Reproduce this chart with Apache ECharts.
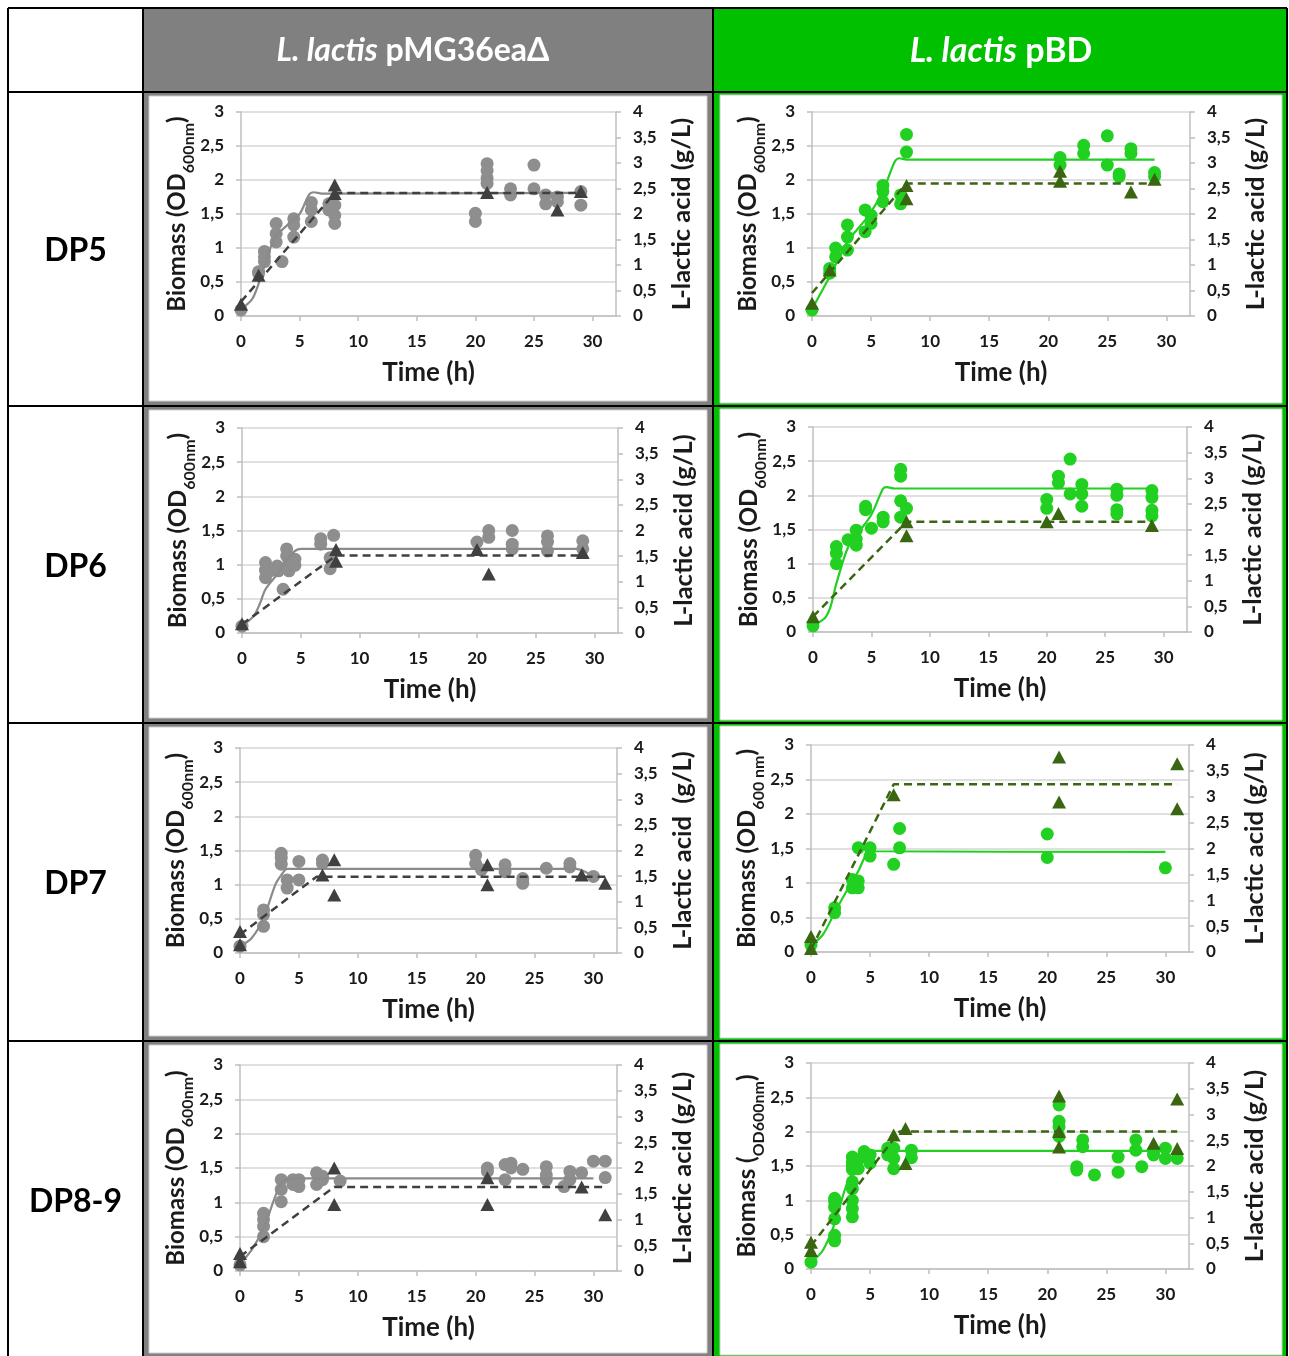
<!DOCTYPE html>
<html><head><meta charset="utf-8">
<script src="https://cdn.jsdelivr.net/npm/echarts@6/dist/echarts.min.js"></script>
<style>html,body{margin:0;padding:0;background:#fff}#c{width:1289px;height:1356px}</style>
</head><body><div id="c"></div>
<script>
// ---------------- DATA ----------------
const headerItalic = ['L. lactis', 'L. lactis'];
const headerRest = [' pMG36eaΔ', ' pBD'];
const rowLabels = ['DP5', 'DP6', 'DP7', 'DP8-9'];
const xTicks = [0, 5, 10, 15, 20, 25, 30];

// DP5 – control (pMG36eaΔ)
const dp5_ctl_od = [[0,0.09],[1.5,0.63],[1.5,0.65],[2,0.95],[2,0.8],[2,0.87],[3,1.36],[3,1.21],[3,1.09],[3.5,0.8],[4.5,1.43],[4.5,1.34],[4.5,1.16],[6,1.67],[6,1.56],[6,1.39],[7.5,1.65],[7.5,1.56],[8,1.63],[8,1.48],[8,1.36],[20,1.51],[20,1.39],[21,2.24],[21,2.14],[21,2.03],[21,1.95],[23,1.87],[23,1.78],[25,2.22],[25,1.87],[26,1.78],[26,1.65],[27,1.75],[27,1.68],[29,1.83],[29,1.63]];
const dp5_ctl_odFit = [[0,0.1],[1,0.26],[1.9,0.68],[2.85,1.14],[4.1,1.36],[5,1.5],[5.8,1.78],[6.2,1.82],[6.9,1.8],[29,1.81]];
const dp5_ctl_lac = [[0,0.23],[1.5,0.8],[8,2.57],[8,2.4],[21,2.42],[27,2.08],[29,2.44]];
const dp5_ctl_lacFit = [[0,0.28],[8,2.41],[29,2.41]];

// DP5 – pBD
const dp5_pbd_od = [[0,0.09],[1.5,0.7],[1.5,0.63],[2,1.0],[2,0.87],[3,1.34],[3,1.16],[3,0.97],[4.5,1.56],[4.5,1.24],[5,1.48],[5,1.36],[6,1.92],[6,1.83],[6,1.68],[7.5,1.78],[7.5,1.65],[8,2.67],[8,2.41],[21,2.33],[21,2.22],[23,2.51],[23,2.39],[25,2.65],[25,2.22],[26,2.09],[26,2.05],[27,2.46],[27,2.39],[29,2.11],[29,2.05]];
const dp5_pbd_odFit = [[0,0.1],[1.5,0.58],[3,1.09],[4.5,1.41],[5,1.53],[6,1.83],[7,2.27],[7.4,2.32],[8,2.3],[29,2.3]];
const dp5_pbd_lac = [[0,0.25],[1.5,0.9],[8,2.56],[8,2.3],[21,2.84],[21,2.64],[27,2.43],[29,2.68]];
const dp5_pbd_lacFit = [[0,0.45],[8,2.6],[29,2.6]];

// DP6 – control
const dp6_ctl_od = [[0,0.1],[2,1.03],[2,0.92],[2,0.81],[2.4,0.91],[3,0.98],[3.1,0.91],[3.5,0.64],[3.8,1.23],[3.8,1.13],[4,1.03],[4,0.91],[4.5,1.08],[4.5,0.99],[6.7,1.38],[6.7,1.3],[7.5,1.1],[7.5,0.94],[7.8,1.43],[20,1.33],[21,1.5],[21,1.4],[23,1.5],[23,1.3],[23,1.23],[26,1.42],[26,1.33],[26,1.2],[29,1.35],[29,1.23]];
const dp6_ctl_odFit = [[0,0.1],[1,0.25],[1.5,0.42],[2,0.64],[3,0.86],[4,1.11],[4.5,1.2],[5,1.23],[6,1.23],[29,1.23]];
const dp6_ctl_lac = [[0,0.18],[8,1.63],[8,1.4],[20,1.63],[21,1.15],[29,1.57]];
const dp6_ctl_lacFit = [[0,0.17],[8,1.51],[29,1.51]];

// DP6 – pBD
const dp6_pbd_od = [[0,0.09],[2,1.25],[2,1.15],[2,1.0],[3,1.35],[3.7,1.49],[3.7,1.36],[3.7,1.27],[4.5,1.84],[4.5,1.79],[5,1.52],[6,1.68],[6,1.61],[7.5,2.38],[7.5,2.28],[7.5,1.92],[7.5,1.68],[8,1.81],[20,1.94],[20,1.81],[21,2.28],[21,2.18],[22,2.53],[22,2.02],[23,2.16],[23,2.02],[23,1.84],[26,2.09],[26,2.0],[26,1.79],[26,1.73],[29,2.07],[29,1.97],[29,1.78],[29,1.7]];
const dp6_pbd_odFit = [[0,0.1],[1,0.2],[1.5,0.37],[2,0.71],[3,1.24],[4,1.48],[5,1.72],[6,2.1],[6.3,2.12],[7,2.1],[29,2.1]];
const dp6_pbd_lac = [[0,0.3],[8,2.15],[8,1.88],[20,2.15],[21,2.31],[29,2.08]];
const dp6_pbd_lacFit = [[0,0.3],[8,2.15],[29,2.15]];

// DP7 – control
const dp7_ctl_od = [[0,0.1],[2,0.63],[2,0.56],[2,0.39],[3.5,1.46],[3.5,1.39],[3.5,1.3],[4,1.07],[4,0.95],[5,1.34],[5,1.07],[7,1.36],[7,1.31],[20,1.43],[20,1.31],[20.5,1.22],[22.5,1.29],[22.5,1.19],[24,1.09],[24,1.02],[26,1.24],[28,1.31],[28,1.26],[30,1.12]];
const dp7_ctl_odFit = [[0,0.1],[1,0.22],[2,0.51],[3,1.0],[3.5,1.14],[4,1.23],[4.5,1.23],[28.5,1.23],[30,1.12]];
const dp7_ctl_lac = [[0,0.42],[0,0.16],[7,1.52],[8,1.82],[8,1.13],[21,1.72],[21,1.33],[29,1.52],[31,1.36]];
const dp7_ctl_lacFit = [[0,0.36],[6.5,1.49],[31,1.49]];

// DP7 – pBD
const dp7_pbd_od = [[0,0.1],[2,0.64],[2,0.57],[3.5,1.05],[3.5,0.93],[4,1.51],[4,1.03],[4,0.93],[5,1.51],[5,1.39],[7,1.27],[7.5,1.79],[7.5,1.51],[20,1.71],[20,1.37],[30,1.22]];
const dp7_pbd_odFit = [[0,0.1],[1,0.25],[2,0.57],[3,0.88],[4,1.17],[4.5,1.36],[5,1.49],[5.5,1.46],[30,1.45]];
const dp7_pbd_lac = [[0,0.3],[0,0.07],[7,3.04],[21,3.77],[21,2.9],[31,3.64],[31,2.77]];
const dp7_pbd_lacFit = [[0,0.05],[7,3.24],[31,3.24]];

// DP8-9 – control
const dp89_ctl_od = [[0,0.09],[2,0.84],[2,0.75],[2,0.65],[2,0.5],[3.5,1.33],[3.5,1.19],[3.5,1.01],[4.5,1.33],[4.5,1.26],[5,1.33],[5,1.23],[6.5,1.43],[6.5,1.26],[7,1.38],[7,1.33],[8.5,1.31],[21,1.5],[21,1.45],[22.5,1.55],[22.5,1.33],[23,1.57],[23,1.5],[24,1.48],[26,1.52],[26,1.4],[26,1.33],[27.5,1.23],[28,1.45],[28,1.33],[29,1.43],[30,1.6],[31,1.6],[31,1.36]];
const dp89_ctl_odFit = [[0,0.1],[1,0.31],[2,0.62],[3,1.09],[3.5,1.28],[4,1.34],[4.5,1.35],[30,1.35]];
const dp89_ctl_lac = [[0,0.34],[0,0.18],[8,2.0],[8,1.29],[21,1.81],[21,1.29],[29,1.63],[31,1.09]];
const dp89_ctl_lacFit = [[0,0.28],[8,1.63],[31,1.63]];

// DP8-9 – pBD
const dp89_pbd_od = [[0,0.1],[2,1.03],[2,0.98],[2,0.9],[2,0.73],[2,0.49],[2,0.41],[3.5,1.63],[3.5,1.56],[3.5,1.5],[3.5,1.45],[3.5,1.27],[3.5,1.17],[3.5,1.0],[3.5,0.88],[3.5,0.76],[4,1.59],[4,1.46],[4.5,1.71],[4.5,1.66],[5,1.66],[5,1.54],[6.5,1.76],[6.5,1.66],[7,1.76],[7,1.61],[7,1.46],[8.5,1.73],[8.5,1.62],[21,2.39],[21,2.15],[21,2.07],[21,1.93],[22.5,1.49],[22.5,1.44],[23,1.88],[23,1.78],[24,1.37],[26,1.63],[26,1.41],[27.5,1.88],[27.5,1.73],[28,1.49],[29,1.71],[29,1.66],[30,1.76],[30,1.61],[31,1.61]];
const dp89_pbd_odFit = [[0,0.1],[1,0.27],[2,0.66],[3,1.22],[4,1.56],[4.5,1.68],[5,1.73],[5.5,1.72],[30,1.72]];
const dp89_pbd_lac = [[0,0.52],[0,0.36],[7,2.6],[8,2.73],[8,2.05],[21,3.36],[21,2.67],[21,2.37],[29,2.44],[31,3.3],[31,2.34]];
const dp89_pbd_lacFit = [[0,0.45],[7.5,2.67],[31,2.67]];

// axis titles
const odTitles = [
  ['Biomass (OD', '600nm', ')'], ['Biomass (OD', '600nm', ')'],
  ['Biomass (OD', '600nm', ')'], ['Biomass (OD', '600nm', ')'],
  ['Biomass (OD', '600nm', ')'], ['Biomass (OD', '600 nm', ')'],
  ['Biomass (OD', '600nm', ')'], ['Biomass (', 'OD600nm', ')']
];
const lacTitles = ['L-lactic acid (g/L)', 'L-lactic acid (g/L)', 'L-lactic acid (g/L)', 'L-lactic acid (g/L)',
  'L-lactic acid  (g/L)', 'L-lactic acid (g/L)', 'L-lactic acid (g/L)', 'L-lactic acid (g/L)'];
const timeTitle = 'Time (h)';

const panelData = [
  [dp5_ctl_od, dp5_ctl_odFit, dp5_ctl_lac, dp5_ctl_lacFit],
  [dp5_pbd_od, dp5_pbd_odFit, dp5_pbd_lac, dp5_pbd_lacFit],
  [dp6_ctl_od, dp6_ctl_odFit, dp6_ctl_lac, dp6_ctl_lacFit],
  [dp6_pbd_od, dp6_pbd_odFit, dp6_pbd_lac, dp6_pbd_lacFit],
  [dp7_ctl_od, dp7_ctl_odFit, dp7_ctl_lac, dp7_ctl_lacFit],
  [dp7_pbd_od, dp7_pbd_odFit, dp7_pbd_lac, dp7_pbd_lacFit],
  [dp89_ctl_od, dp89_ctl_odFit, dp89_ctl_lac, dp89_ctl_lacFit],
  [dp89_pbd_od, dp89_pbd_odFit, dp89_pbd_lac, dp89_pbd_lacFit]
];

// ---------------- LAYOUT / STYLE ----------------
const colX = [8, 143, 713, 1287];
const rowY = [8, 92, 406, 723, 1041, 1358];
const plotBoxes = [
  [241, 112, 375, 204], [812, 112, 378, 204],
  [242, 428, 376, 205], [813, 427, 374, 205],
  [240, 748, 377, 205], [811, 745, 378, 207],
  [240, 1065, 377, 206], [811, 1063, 378, 206]
];
const themes = [
  { frame: '#808080', od: '#8e8e8e', odLine: '#8a8a8a', lac: '#404040', lacLine: '#404040', inset: [6, 4, 6, 5], head: 32 },
  { frame: '#00c000', od: '#22d022', odLine: '#22d022', lac: '#3a6612', lacLine: '#3a6612', inset: [7, 3, 5, 3], head: 34 }
];
const FONT = 'Lato';
const TXT = '#1a1a1a';
const AX = '#bfbfbf';
const comma = v => String(v).replace('.', ',');

const grids = [], xAxes = [], yAxes = [], series = [], graphics = [];

// table background & frames
for (let c = 0; c < 2; c++) {
  const th = themes[c];
  graphics.push({ type: 'rect', z: -10, shape: { x: colX[c + 1], y: rowY[0], width: colX[c + 2] - colX[c + 1], height: rowY[1] - rowY[0] }, style: { fill: th.frame } });
  for (let r = 0; r < 4; r++) {
    const x0 = colX[c + 1], x1 = colX[c + 2], y0 = rowY[r + 1], y1 = rowY[r + 2];
    const [il, it, ir, ib] = th.inset;
    graphics.push({ type: 'rect', z: -10, shape: { x: x0, y: y0, width: x1 - x0, height: y1 - y0 }, style: { fill: th.frame } });
    graphics.push({ type: 'rect', z: -9, shape: { x: x0 + il, y: y0 + it, width: x1 - x0 - il - ir, height: y1 - y0 - it - ib }, style: { fill: '#fff', stroke: '#cfcfcf', lineWidth: 1 } });
  }
}
colX.forEach(x => graphics.push({ type: 'line', z: -5, shape: { x1: x, y1: rowY[0], x2: x, y2: 1356 }, style: { stroke: '#000', lineWidth: 2 } }));
rowY.slice(0, 5).forEach(y => graphics.push({ type: 'line', z: -5, shape: { x1: colX[0], y1: y, x2: colX[3], y2: y }, style: { stroke: '#000', lineWidth: 2 } }));

// header texts
const headerCx = [413, 1001];
for (let c = 0; c < 2; c++) {
  const fs = themes[c].head;
  graphics.push({ type: 'text', z: 5, x: headerCx[c], y: 51, style: {
    text: '{i|' + headerItalic[c] + '}{n|' + headerRest[c] + '}', align: 'center', verticalAlign: 'middle',
    fill: '#fff', font: 'bold ' + fs + 'px ' + FONT,
    rich: { i: { fontStyle: 'italic', fontWeight: 'bold', fontSize: fs, fontFamily: FONT, fill: '#fff' },
            n: { fontWeight: 'bold', fontSize: fs, fontFamily: FONT, fill: '#fff' } } } });
}
// row labels
rowLabels.forEach((t, r) => graphics.push({ type: 'text', z: 5, x: 75.5, y: (rowY[r + 1] + rowY[r + 2]) / 2 + 2, style: {
  text: t, align: 'center', verticalAlign: 'middle', fill: '#000', font: 'bold 32px ' + FONT } }));

const labelStyle = { fontFamily: FONT, fontWeight: 'bold', fontSize: 17, color: TXT };

panelData.forEach((d, i) => {
  const th = themes[i % 2];
  const [l, t, w, h] = plotBoxes[i];
  grids.push({ left: l, top: t, width: w, height: h });
  xAxes.push({
    type: 'value', gridIndex: i, min: 0, max: 32,
    name: timeTitle, nameLocation: 'middle', nameGap: 44,
    nameTextStyle: { fontFamily: FONT, fontWeight: 'bold', fontSize: 26, color: TXT },
    axisLine: { show: true, onZero: false, lineStyle: { color: AX, width: 1.5 } },
    axisTick: { show: true, length: 5, customValues: xTicks, lineStyle: { color: AX, width: 1.5 } },
    axisLabel: { customValues: xTicks, margin: 17, ...labelStyle },
    splitLine: { show: false }
  });
  const ot = odTitles[i];
  yAxes.push({
    type: 'value', gridIndex: i, position: 'left', min: 0, max: 3, interval: 0.5,
    name: '{m|' + ot[0] + '}{s|' + ot[1] + '}{m|' + ot[2] + '}', nameLocation: 'middle', nameRotate: 90, nameGap: 42,
    nameTextStyle: { rich: {
      m: { fontFamily: FONT, fontWeight: 'bold', fontSize: 24, color: TXT, lineHeight: 31, verticalAlign: 'top' },
      s: { fontFamily: FONT, fontWeight: 'bold', fontSize: 16, color: TXT, lineHeight: 16, verticalAlign: 'bottom' } } },
    axisLine: { show: true, lineStyle: { color: AX, width: 1.5 } },
    axisTick: { show: true, length: 5, lineStyle: { color: AX, width: 1.5 } },
    axisLabel: { margin: 17, formatter: comma, ...labelStyle },
    splitLine: { show: true, lineStyle: { color: '#d6d6d6', width: 1.5 } }
  });
  yAxes.push({
    type: 'value', gridIndex: i, position: 'right', min: 0, max: 4, interval: 0.5,
    name: lacTitles[i], nameLocation: 'middle', nameRotate: 90, nameGap: 53,
    nameTextStyle: { fontFamily: FONT, fontWeight: 'bold', fontSize: 25.5, color: TXT },
    axisLine: { show: true, lineStyle: { color: AX, width: 1.5 } },
    axisTick: { show: true, length: 5, lineStyle: { color: AX, width: 1.5 } },
    axisLabel: { margin: 17, formatter: comma, ...labelStyle },
    splitLine: { show: false }
  });
  const yl = 2 * i, yr = 2 * i + 1;
  series.push({ type: 'scatter', xAxisIndex: i, yAxisIndex: yl, z: 2, data: d[0], symbol: 'circle', symbolSize: 13, itemStyle: { color: th.od, opacity: 1 } });
  series.push({ type: 'line', xAxisIndex: i, yAxisIndex: yl, z: 3, data: d[1], smooth: 0.3, symbol: 'none', lineStyle: { color: th.odLine, width: 2.2 } });
  series.push({ type: 'scatter', xAxisIndex: i, yAxisIndex: yr, z: 4, data: d[2], symbol: 'triangle', symbolSize: [14, 13], itemStyle: { color: th.lac, opacity: 1 } });
  series.push({ type: 'line', xAxisIndex: i, yAxisIndex: yr, z: 5, data: d[3], symbol: 'none', lineStyle: { color: th.lacLine, width: 2.5, type: [8, 5] } });
});

const chart = echarts.init(document.getElementById('c'), null, { renderer: 'canvas' });
chart.setOption({
  animation: false,
  backgroundColor: '#fff',
  grid: grids, xAxis: xAxes, yAxis: yAxes, series: series,
  graphic: { elements: graphics }
});
</script></body></html>
